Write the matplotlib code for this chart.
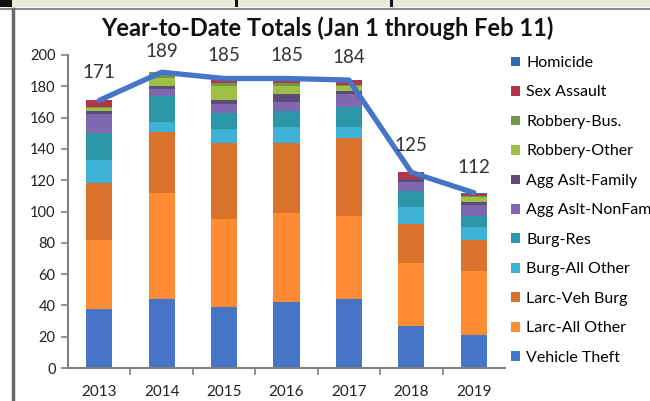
import matplotlib
matplotlib.use("Agg")
import matplotlib.pyplot as plt
from matplotlib.patches import Rectangle
from matplotlib.lines import Line2D
import numpy as np

years = ["2013", "2014", "2015", "2016", "2017", "2018", "2019"]
totals = [171, 189, 185, 185, 184, 125, 112]

# stacking order bottom -> top
series_names = ["Vehicle Theft", "Larc-All Other", "Larc-Veh Burg", "Burg-All Other",
                "Burg-Res", "Agg Aslt-NonFam", "Agg Aslt-Family", "Robbery-Other",
                "Robbery-Bus.", "Sex Assault", "Homicide"]
vehicle_theft   = [38, 44, 39, 42, 44, 27, 21]
larc_all_other  = [44, 68, 56, 57, 53, 40, 41]
larc_veh_burg   = [36, 39, 49, 45, 50, 25, 20]
burg_all_other  = [15, 6, 9, 10, 7, 11, 8]
burg_res        = [17, 17, 10, 10, 13, 10, 7]
agg_nonfam      = [12, 4, 6, 6, 8, 6, 7]
agg_family      = [2, 2, 2, 5, 2, 2, 2]
robbery_other   = [2, 5, 9, 5, 3, 0, 3]
robbery_bus     = [1, 4, 2, 2, 1, 0, 1]
sex_assault     = [4, 0, 3, 3, 3, 4, 1]
homicide        = [0, 0, 0, 0, 0, 0, 1]

series_values = [vehicle_theft, larc_all_other, larc_veh_burg, burg_all_other, burg_res,
                 agg_nonfam, agg_family, robbery_other, robbery_bus, sex_assault, homicide]
colors = ["#4674C6", "#FF8C32", "#D9722A", "#3EB2D6", "#2A96A8", "#8068B0",
          "#5D4C7A", "#9DC045", "#6F9A45", "#B5364A", "#2E6DB4"]
label_offsets_pt = [20, 15, 16.5, 16.5, 16.5, 19.5, 18.5]

plt.rcParams['font.family'] = ['Lato', 'DejaVu Sans']

fig = plt.figure(figsize=(6.5, 4.01), dpi=100)
fig.patch.set_facecolor("white")

# frame decorations from the screenshot
fig.patches.append(Rectangle((0, 1 - 7/401), 1, 7/401, transform=fig.transFigure,
                             facecolor="#e6ecd8", edgecolor="none", zorder=0))
fig.patches.append(Rectangle((0, 1 - 7/401), 12/650, 7/401, transform=fig.transFigure,
                             facecolor="#111111", edgecolor="none", zorder=1))
for xp in [235, 390]:
    fig.patches.append(Rectangle((xp/650, 1 - 7/401), 3/650, 7/401, transform=fig.transFigure,
                                 facecolor="#111111", edgecolor="none", zorder=1))
fig.lines.append(Line2D([0, 1], [1 - 9/401, 1 - 9/401], transform=fig.transFigure,
                        color="#8a8a8a", lw=1.5))
fig.lines.append(Line2D([13/650, 13/650], [0, 1 - 9/401], transform=fig.transFigure,
                        color="#6a6a6a", lw=2.5))

ax = fig.add_axes([68/650, 1 - 368/401, (505 - 68)/650, (368 - 55)/401])
x = np.arange(len(years))
bottom = np.zeros(len(years))
handles = []
for name, vals, c in zip(series_names, series_values, colors):
    h = ax.bar(x, vals, width=0.42, bottom=bottom, color=c, label=name, zorder=2)
    handles.append(h)
    bottom += np.array(vals)

ax.plot(x, totals, color="#4674C6", lw=3.8, zorder=3, solid_capstyle="round")
for xi, t, off in zip(x, totals, label_offsets_pt):
    ax.annotate(str(t), (xi, t), xytext=(0, off), textcoords="offset points",
                ha="center", va="center", fontsize=13.5, color="#333333")

ax.set_xlim(-0.5, len(years) - 0.5)
ax.set_ylim(0, 200)
ax.set_yticks(range(0, 201, 20))
ax.set_xticks(x)
ax.set_xticklabels(years)
ax.set_xticks(np.arange(0.5, len(years) - 0.5, 1), minor=True)
ax.tick_params(axis="x", which="major", length=0, pad=12, labelsize=11, labelcolor="#222222")
ax.tick_params(axis="x", which="minor", length=5, width=1.2, color="#808080", direction="out")
ax.tick_params(axis="y", length=5, width=1.2, color="#808080", labelsize=10.5,
               labelcolor="#222222", pad=4)
for s in ["top", "right"]:
    ax.spines[s].set_visible(False)
for s in ["left", "bottom"]:
    ax.spines[s].set_color("#808080")
    ax.spines[s].set_linewidth(1.5)
ax.set_facecolor("none")

fig.text(0.504, 1 - 28/401, "Year-to-Date Totals (Jan 1 through Feb 11)", ha="center",
         va="center", fontsize=17, fontweight="bold", color="#111111")

leg = fig.legend(handles[::-1], series_names[::-1], loc="upper left",
                 bbox_to_anchor=(511/650, 1 - 56/401), frameon=False, fontsize=11.5,
                 handlelength=0.55, handleheight=0.55, handletextpad=0.4,
                 labelspacing=0.97, borderaxespad=0, borderpad=0)

fig.savefig("out.png", dpi=100)
